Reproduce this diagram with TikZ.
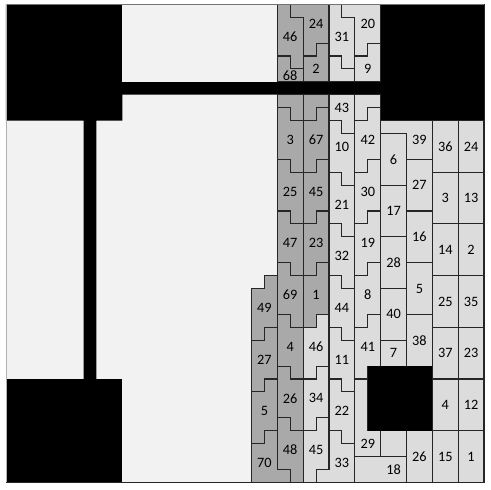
\documentclass[tikz,border=0pt]{standalone}
\usepackage{fontspec}
\setmainfont{Carlito}
\definecolor{darkfill}{HTML}{A9A9A9}
\definecolor{lightfill}{HTML}{DCDCDC}
\definecolor{freefill}{HTML}{F2F2F2}
\definecolor{edgeink}{HTML}{262626}
\tikzset{
  darkpiece/.style={draw=edgeink,fill=darkfill,line width=0.95pt},
  lightpiece/.style={draw=edgeink,fill=lightfill,line width=0.95pt},
  numlabel/.style={text=black,font=\fontsize{12.6}{12.6}\selectfont,inner sep=0pt},
}
\begin{document}
\begin{tikzpicture}[x=0.4cm,y=-0.4cm,every node/.style={numlabel}]
   \useasboundingbox (-0.464,-0.333) rectangle (37.54,37.52);
   % free floor and blocked areas
   \fill [freefill] (0,0) rectangle (37,37);
   \fill (0,0)--(37,0)--(37,9)--(29,9)--(29,7)--(9,7)--(9,9)--(7,9)--(7,29)--(6,29)--(6,9)--(0,9)--cycle;
   \fill [freefill] (9,0) rectangle (21,6);
   \fill (0,29) rectangle (9,37);
   \fill (28,28) rectangle (33,33);
   % hooked pieces, dark
   \foreach \x/\y in {21/0,21/8,21/12,21/16,21/20,21/24,21/28,21/32}
      \draw [darkpiece,shift={(\x,\y)}] (0,0)--(1,0)--(1,1)--(2,1)--(2,5)--(1,5)--(1,4)--(0,4)--cycle;
   \foreach \x/\y in {23/8,23/12,23/16,23/20,19/21,19/25,19/29}
      \draw [darkpiece,shift={(\x,\y)}] (0,1)--(1,1)--(1,0)--(2,0)--(2,4)--(1,4)--(1,5)--(0,5)--cycle;
   \draw [darkpiece] (22,0)--(25,0)--(25,3)--(24,3)--(24,4)--(23,4)--(23,1)--(22,1)--cycle;
   \draw [darkpiece] (23,4)--(24,4)--(24,3)--(25,3)--(25,6)--(23,6)--cycle;
   \draw [darkpiece] (21,4)--(22,4)--(22,5)--(23,5)--(23,6)--(21,6)--cycle;
   \draw [darkpiece] (21,7)--(23,7)--(23,9)--(22,9)--(22,8)--(21,8)--cycle;
   \draw [darkpiece] (23,7)--(25,7)--(25,8)--(24,8)--(24,9)--(23,9)--cycle;
   \draw [darkpiece] (19,34)--(20,34)--(20,33)--(21,33)--(21,36)--(22,36)--(22,37)--(19,37)--cycle;
   % hooked pieces, light
   \foreach \x/\y in {25/0,25/9,25/13,25/17,25/21,25/25,25/29}
      \draw [lightpiece,shift={(\x,\y)}] (0,0)--(1,0)--(1,1)--(2,1)--(2,5)--(1,5)--(1,4)--(0,4)--cycle;
   \foreach \x/\y in {23/24,23/28,23/32,27/8,27/12,27/16,27/20,27/24}
      \draw [lightpiece,shift={(\x,\y)}] (0,1)--(1,1)--(1,0)--(2,0)--(2,4)--(1,4)--(1,5)--(0,5)--cycle;
   \draw [lightpiece] (26,0)--(29,0)--(29,3)--(28,3)--(28,4)--(27,4)--(27,1)--(26,1)--cycle;
   \draw [lightpiece] (27,4)--(28,4)--(28,3)--(29,3)--(29,6)--(27,6)--cycle;
   \draw [lightpiece] (25,4)--(26,4)--(26,5)--(27,5)--(27,6)--(25,6)--cycle;
   \draw [lightpiece] (25,7)--(27,7)--(27,10)--(26,10)--(26,9)--(25,9)--cycle;
   \draw [lightpiece] (27,7)--(29,7)--(29,8)--(28,8)--(28,9)--(27,9)--cycle;
   \draw [lightpiece] (25,33)--(26,33)--(26,34)--(27,34)--(27,37)--(24,37)--(24,36)--(25,36)--cycle;
   \draw [lightpiece] (27,29)--(28,29)--(28,33)--(29,33)--(29,35)--(27,35)--cycle;
   \draw [lightpiece] (29,9)--(33,9)--(33,12)--(31,12)--(31,10)--(29,10)--cycle;
   % plain rectangles
   \foreach \x/\y/\w/\h in {29/10/2/4,29/14/2/4,29/18/2/4,29/22/2/4,29/26/2/2,29/33/2/2,27/35/4/2,
         31/12/2/4,31/16/2/4,31/20/2/4,31/24/2/4,31/33/2/4}
      \draw [lightpiece] (\x,\y) rectangle ++(\w,\h);
   \foreach \x in {33,35}
      \foreach \y/\h in {9/4,13/4,17/4,21/4,25/4,29/4,33/4}
         \draw [lightpiece] (\x,\y) rectangle ++(2,\h);
   % redraw the hole over its neighbours
   \fill (28,28) rectangle (33,33);
   % outer frame
   \draw [black!55,line width=0.7pt] (0,0)--(37,0);
   \draw [black!30,line width=0.7pt] (0,0)--(0,37);
   \draw [edgeink,line width=0.9pt] (37,0)--(37,37)--(0,37);
   % numbers, dark
   \draw (22,2.5) node (d46) {46};
   \draw (24,1.5) node (d24) {24};
   \draw (24,5) node (d2) {2};
   \draw (22,5.5) node (d68) {68};
   \draw (22,10.5) node (d3) {3};
   \draw (24,10.5) node (d67) {67};
   \draw (22,14.5) node (d25) {25};
   \draw (24,14.5) node (d45) {45};
   \draw (22,18.5) node (d47) {47};
   \draw (24,18.5) node (d23) {23};
   \draw (22,22.5) node (d69) {69};
   \draw (24,22.5) node (d1) {1};
   \draw (20,23.5) node (d49) {49};
   \draw (22,26.5) node (d4) {4};
   \draw (20,27.5) node (d27) {27};
   \draw (22,30.5) node (d26) {26};
   \draw (20,31.5) node (d5) {5};
   \draw (22,34.5) node (d48) {48};
   \draw (20,35.5) node (d70) {70};
   % numbers, light
   \draw (26,2.5) node (l31) {31};
   \draw (28,1.5) node (l20) {20};
   \draw (28,5) node (l9) {9};
   \draw (26,8) node (l43) {43};
   \draw (26,11) node (l10) {10};
   \draw (28,10.5) node (l42) {42};
   \draw (30,12) node (l6) {6};
   \draw (32,10.5) node (l39) {39};
   \draw (34,11) node (l36) {36};
   \draw (36,11) node (l24) {24};
   \draw (26,15.5) node (l21) {21};
   \draw (28,14.5) node (l30) {30};
   \draw (30,16) node (l17) {17};
   \draw (32,14) node (l27) {27};
   \draw (34,15) node (l3) {3};
   \draw (36,15) node (l13) {13};
   \draw (26,19.5) node (l32) {32};
   \draw (28,18.5) node (l19) {19};
   \draw (30,20) node (l28) {28};
   \draw (32,18) node (l16) {16};
   \draw (34,19) node (l14) {14};
   \draw (36,19) node (l2) {2};
   \draw (26,23.5) node (l44) {44};
   \draw (28,22.5) node (l8) {8};
   \draw (30,24) node (l40) {40};
   \draw (32,22) node (l5) {5};
   \draw (34,23) node (l25) {25};
   \draw (36,23) node (l35) {35};
   \draw (24,26.5) node (l46) {46};
   \draw (26,27.5) node (l11) {11};
   \draw (28,26.5) node (l41) {41};
   \draw (30,27) node (l7) {7};
   \draw (32,26) node (l38) {38};
   \draw (34,27) node (l37) {37};
   \draw (36,27) node (l23) {23};
   \draw (24,30.5) node (l34) {34};
   \draw (26,31.5) node (l22) {22};
   \draw (34,31) node (l4) {4};
   \draw (36,31) node (l12) {12};
   \draw (24,34.5) node (l45) {45};
   \draw (26,35.5) node (l33) {33};
   \draw (28,34) node (l29) {29};
   \draw (30,36) node (l18) {18};
   \draw (32,35) node (l26) {26};
   \draw (34,35) node (l15) {15};
   \draw (36,35) node (l1) {1};
\end{tikzpicture}
\end{document}
